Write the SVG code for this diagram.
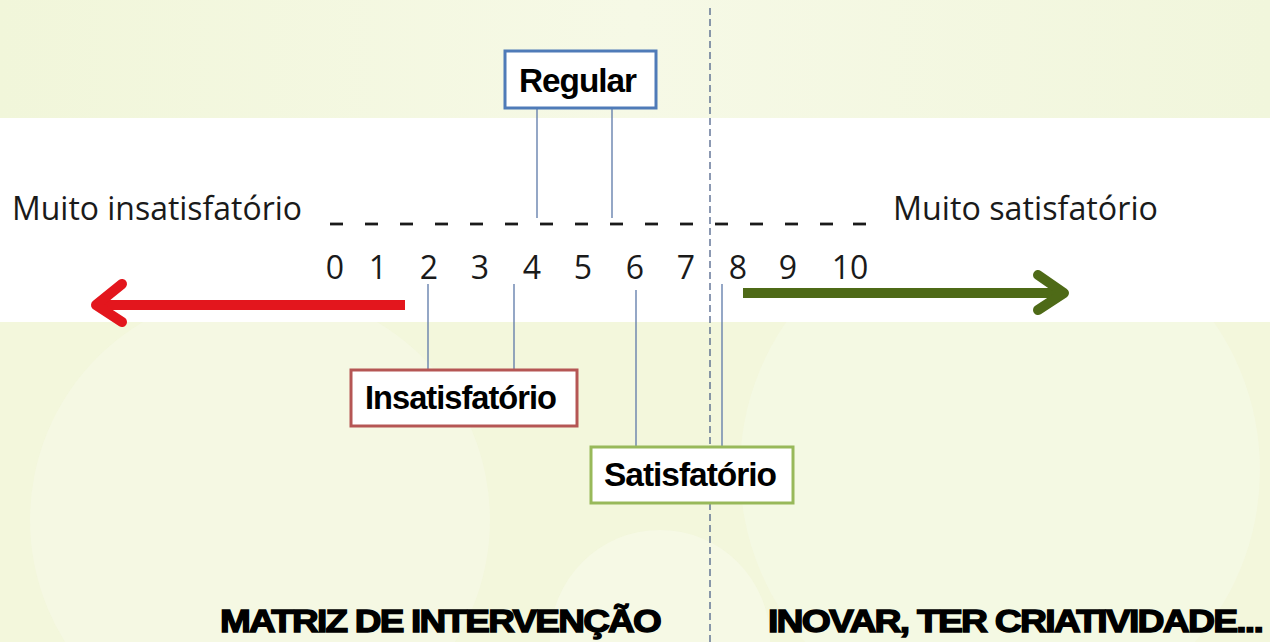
<svg xmlns="http://www.w3.org/2000/svg" width="1270" height="642" viewBox="0 0 1270 642">
<defs>
<style>
.lbl{font-family:"Open Sans","Liberation Sans",sans-serif;font-size:32px;fill:#1a1a1a}
.num{font-family:"Open Sans","Liberation Sans",sans-serif;font-size:32px;fill:#1a1a1a;text-anchor:middle}
.box{fill:#ffffff;stroke-width:3}
.btxt{font-family:"Liberation Sans",Arial,sans-serif;font-weight:bold;font-size:33px;fill:#000;letter-spacing:-1px}
.foot{font-family:"Liberation Sans",Arial,sans-serif;font-weight:bold;font-size:31px;fill:#000;stroke:#000;stroke-width:1.3;letter-spacing:-1.5px}
.lead{stroke:#5b78a8;stroke-width:1.3;fill:none}
.dash{stroke:#1a1a1a;stroke-width:2.8}
</style>
<linearGradient id="bgTop" x1="0" y1="0" x2="1" y2="0">
<stop offset="0" stop-color="#f1f6da"/><stop offset="0.5" stop-color="#f6f9e6"/><stop offset="1" stop-color="#f1f6dc"/>
</linearGradient>
</defs>
<g id="background">
<rect x="0" y="0" width="1270" height="642" fill="#f3f7dc"/>
<rect x="0" y="0" width="1270" height="118" fill="url(#bgTop)"/>
<circle cx="260" cy="520" r="230" fill="#f7faea" opacity="0.5"/>
<circle cx="1000" cy="470" r="260" fill="#f7faea" opacity="0.45"/>
<circle cx="660" cy="640" r="110" fill="#f9fbee" opacity="0.5"/>
<rect x="0" y="118" width="1270" height="204" fill="#ffffff"/>
</g>
<g id="divider">
<line x1="710" y1="8" x2="710" y2="642" stroke="#3f5580" stroke-width="1.2" stroke-dasharray="7,4"/>
</g>
<g id="scale">
<g class="dash">
<line x1="330" y1="224" x2="343" y2="224"/><line x1="365" y1="224" x2="378" y2="224"/>
<line x1="400" y1="224" x2="413" y2="224"/><line x1="435" y1="224" x2="448" y2="224"/>
<line x1="470" y1="224" x2="483" y2="224"/><line x1="505" y1="224" x2="518" y2="224"/>
<line x1="540" y1="224" x2="553" y2="224"/><line x1="575" y1="224" x2="588" y2="224"/>
<line x1="610" y1="224" x2="623" y2="224"/><line x1="645" y1="224" x2="658" y2="224"/>
<line x1="680" y1="224" x2="693" y2="224"/><line x1="715" y1="224" x2="728" y2="224"/>
<line x1="750" y1="224" x2="763" y2="224"/><line x1="785" y1="224" x2="798" y2="224"/>
<line x1="820" y1="224" x2="833" y2="224"/><line x1="853" y1="224" x2="866" y2="224"/>
</g>
<text class="num" x="335" y="279">0</text>
<text class="num" x="378" y="279">1</text>
<text class="num" x="429" y="279">2</text>
<text class="num" x="480" y="279">3</text>
<text class="num" x="532" y="279">4</text>
<text class="num" x="583" y="279">5</text>
<text class="num" x="635" y="279">6</text>
<text class="num" x="686" y="279">7</text>
<text class="num" x="738" y="279">8</text>
<text class="num" x="788" y="279">9</text>
<text class="num" x="850" y="279">10</text>
</g>
<g id="label-muito-insatisfatorio">
<text class="lbl" x="12" y="220" textLength="290" lengthAdjust="spacingAndGlyphs">Muito insatisfatório</text>
</g>
<g id="label-muito-satisfatorio">
<text class="lbl" x="893" y="220" textLength="265" lengthAdjust="spacingAndGlyphs">Muito satisfatório</text>
</g>
<g id="connectors">
<line class="lead" x1="537" y1="108" x2="537" y2="218"/>
<line class="lead" x1="612" y1="108" x2="612" y2="218"/>
<line class="lead" x1="428" y1="284" x2="428" y2="369"/>
<line class="lead" x1="514" y1="284" x2="514" y2="369"/>
<line class="lead" x1="636" y1="290" x2="636" y2="446"/>
<line class="lead" x1="722" y1="284" x2="722" y2="446"/>
</g>
<g id="arrow-red">
<line x1="405" y1="305" x2="100" y2="305" stroke="#e3161d" stroke-width="10"/>
<polyline points="122,284 96,305 122,322" fill="none" stroke="#e3161d" stroke-width="10" stroke-linecap="round" stroke-linejoin="round"/>
</g>
<g id="arrow-green">
<line x1="743" y1="293" x2="1060" y2="293" stroke="#4e6a17" stroke-width="10"/>
<polyline points="1038,275 1064,293 1038,310" fill="none" stroke="#4e6a17" stroke-width="10" stroke-linecap="round" stroke-linejoin="round"/>
</g>
<g id="node-regular">
<rect class="box" x="505" y="51" width="151" height="57" stroke="#4f7bb8"/>
<text class="btxt" x="519" y="92" textLength="117" lengthAdjust="spacingAndGlyphs">Regular</text>
</g>
<g id="node-insatisfatorio">
<rect class="box" x="351" y="370" width="226" height="56" stroke="#b55654"/>
<text class="btxt" x="365" y="409" textLength="191" lengthAdjust="spacingAndGlyphs">Insatisfatório</text>
</g>
<g id="node-satisfatorio">
<rect class="box" x="591" y="447" width="202" height="56" stroke="#98b95a"/>
<text class="btxt" x="604" y="486" textLength="172" lengthAdjust="spacingAndGlyphs">Satisfatório</text>
</g>
<g id="footer">
<text class="foot" x="220" y="632" textLength="440" lengthAdjust="spacingAndGlyphs">MATRIZ DE INTERVENÇÃO</text>
<text class="foot" x="768" y="632" textLength="494" lengthAdjust="spacingAndGlyphs">INOVAR, TER CRIATIVIDADE...</text>
</g>
</svg>
